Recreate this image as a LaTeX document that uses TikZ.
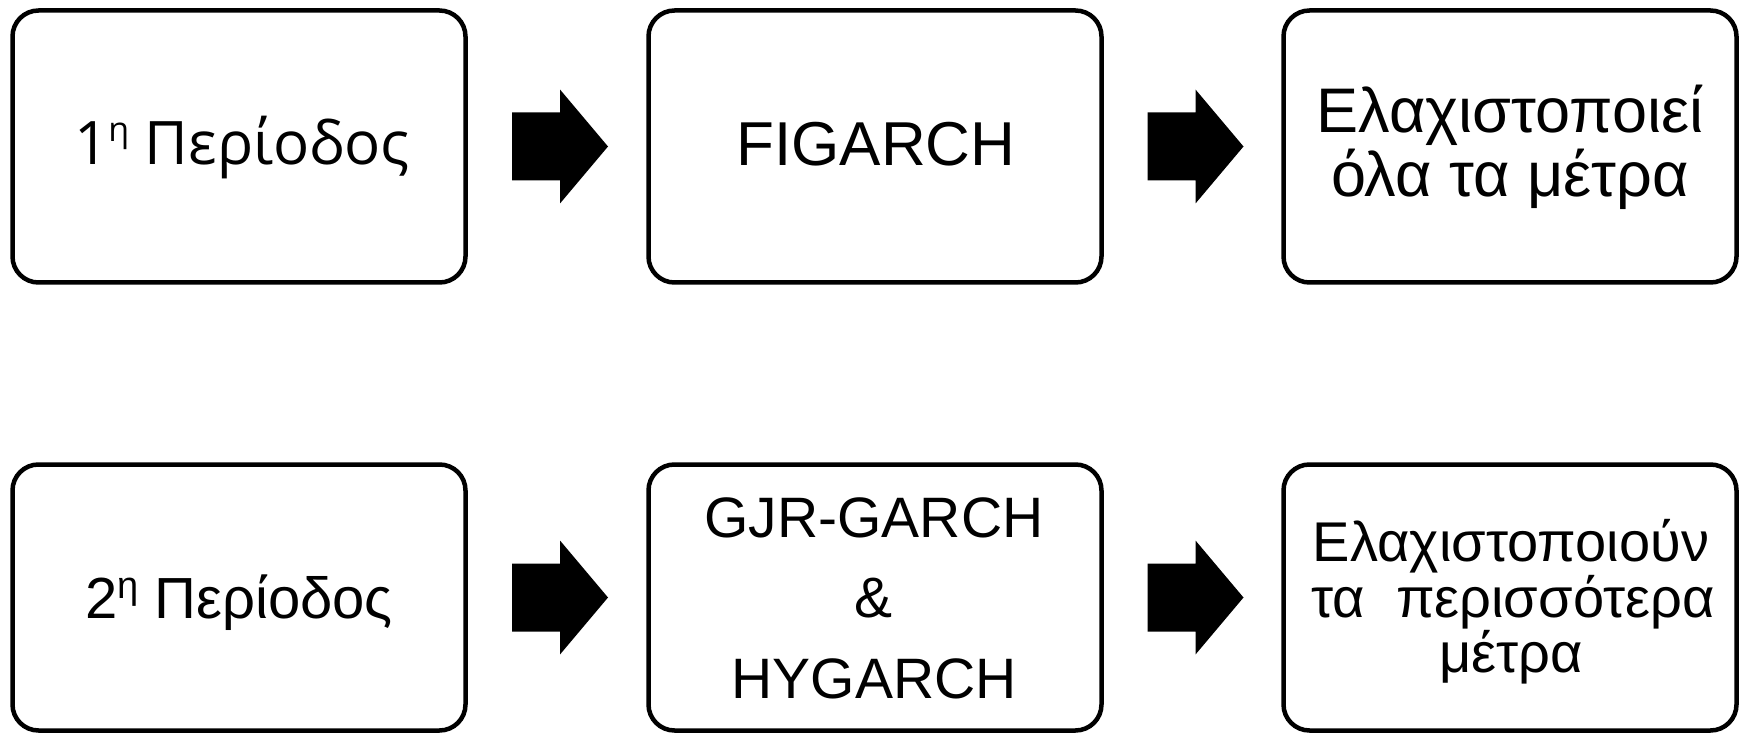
\documentclass[tikz,border=0pt]{standalone}
\usepackage{fontspec}
\setmainfont{Liberation Sans}
\newfontfamily\opensans{Open Sans}
\usetikzlibrary{calc}
\tikzset{
  box/.style={draw, line width=4.5pt, rounded corners=26pt, minimum width=453pt, inner sep=0pt},
  lbl/.style={anchor=base, inner sep=0pt},
  blockarrow/.style={fill=black},
}
\newcommand{\supeta}[2]{\raisebox{#1}{\fontsize{#2}{#2}\selectfont η}}
\newcommand{\fs}[1]{\fontsize{#1}{#1}\selectfont}
\begin{document}
\begin{tikzpicture}[x=1pt,y=-1pt]
\useasboundingbox (0,0) rectangle (1741,735);
% boxes
\node[box, minimum height=272pt] (b1) at (239,146.5) {};
\node[box, minimum height=272pt] (b2) at (875,146.5) {};
\node[box, minimum height=272pt] (b3) at (1510,146.5) {};
\node[box, minimum height=266pt] (b4) at (239,597.5) {};
\node[box, minimum height=266pt] (b5) at (875,597.5) {};
\node[box, minimum height=266pt] (b6) at (1510,597.5) {};
% texts
\node[lbl, font=\opensans\fs{60}] (t1) at (242,165) {1\supeta{23.5pt}{34} Περίοδος};
\node[lbl, font=\fs{62}] (t2) at (876,166) {FIGARCH};
\node[lbl, font=\fs{63}] (t3a) at (1510,133) {Ελαχιστοποιεί};
\node[lbl, font=\fs{63}] (t3b) at (1510,197) {όλα τα μέτρα};
\node[lbl, font=\fs{58}] (t4) at (239,618) {2\supeta{20pt}{38} Περίοδος};
\node[lbl, font=\fs{57}] (t5a) at (874,537) {GJR-GARCH};
\node[lbl, font=\fs{57}] (t5b) at (874,617) {\&};
\node[lbl, font=\fs{57}] (t5c) at (874,698) {HYGARCH};
\node[lbl, font=\fs{56}] (t6a) at (1511,561) {Ελαχιστοποιούν};
\node[lbl, font=\fs{56}] (t6b) at (1513,617) {τα\ \ περισσότερα};
\node[lbl, font=\fs{56}] (t6c) at (1511,672) {μέτρα};
% block arrows
\coordinate (m1) at ($(b1.east)!0.5!(b2.west)+(3,0)$);
\coordinate (m2) at ($(b2.east)!0.5!(b3.west)+(3,0)$);
\coordinate (m3) at ($(b4.east)!0.5!(b5.west)+(3,0)$);
\coordinate (m4) at ($(b5.east)!0.5!(b6.west)+(3,0)$);
\foreach \m in {m1,m2,m3,m4}{
  \fill[blockarrow] (\m) +(-48,-34) -- +(0,-34) -- +(0,-57) -- +(48,0) -- +(0,57) -- +(0,34) -- +(-48,34) -- cycle;
}
\end{tikzpicture}
\end{document}
